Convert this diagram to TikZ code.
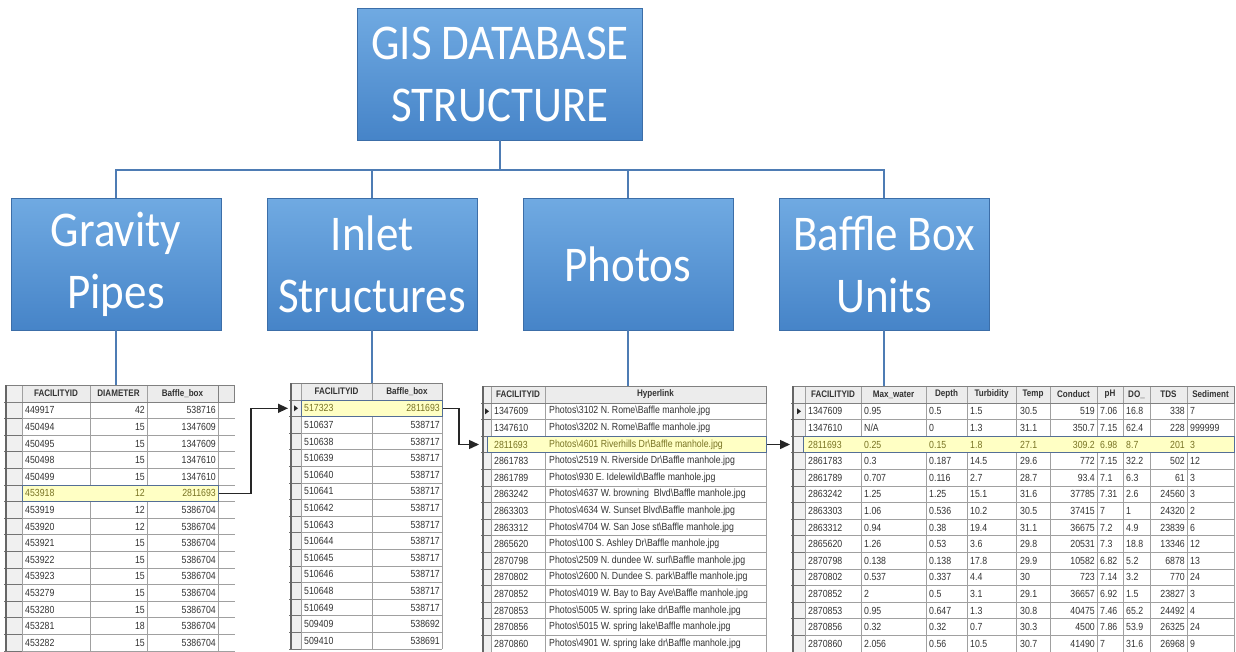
\documentclass[tikz,border=0pt]{standalone}
\usepackage{fontspec}
\setmainfont{Liberation Sans}
\newfontfamily\boxfont[FakeStretch=0.9]{Carlito}
\newfontfamily\cellfont[FakeStretch=0.85]{Liberation Sans}
\usetikzlibrary{arrows.meta}

\definecolor{cboxtop}{RGB}{112,170,226}
\definecolor{cboxbot}{RGB}{70,132,200}
\definecolor{cboxline}{RGB}{60,110,168}
\definecolor{cconn}{RGB}{78,124,180}
\definecolor{cgrid}{RGB}{160,160,160}
\definecolor{chdr}{RGB}{236,236,236}
\definecolor{csel}{RGB}{240,240,240}
\definecolor{chlfill}{RGB}{255,255,196}
\definecolor{chlline}{RGB}{84,110,150}
\definecolor{chltext}{RGB}{120,115,35}
\definecolor{ccell}{RGB}{50,50,50}

\def\hdrh{17}
\def\rowh{16.6}
\def\bs{\textbackslash}

\tikzset{
  box/.style={draw=cboxline, line width=0.8pt, top color=cboxtop, bottom color=cboxbot,
    minimum width=210pt, minimum height=132pt, inner sep=0pt, text=white, align=center,
    font=\boxfont\fontsize{50}{62}\selectfont},
  conn/.style={draw=cconn, line width=1.2pt},
  link/.style={draw=black!85, line width=1.4pt, -{Triangle[length=10pt,width=9pt]}},
  cell/.style={font=\cellfont\fontsize{10.3}{12}\selectfont, inner sep=0pt},
  hdr/.style={font=\cellfont\bfseries\fontsize{9.5}{11}\selectfont, text=black!80, inner sep=0pt},
  hlrow/.style={draw=chlline, fill=chlfill, line width=1pt, inner sep=0pt, minimum height=16.6pt},
  gridln/.style={draw=cgrid, line width=0.8pt},
  selln/.style={draw=black!55, line width=1pt},
  hdrln/.style={draw=black!50, line width=0.9pt},
  framel/.style={draw=black!60, line width=2pt},
  marker/.style={fill=black!85},
}

% table grid: #1 left, #2 selector right, #3 top, #4 right, #5 column rules
\newcommand\tgrid[5]{%
  \pgfmathsetmacro\tbot{#3+\hdrh+15*\rowh}
  \fill[chdr] (#2,#3) rectangle (#4,#3+\hdrh);
  \fill[csel] (#1,#3) rectangle (#2,\tbot);
  \foreach \rr in {0,...,15}{
    \draw[gridln] (#2,#3+\hdrh+\rr*\rowh) -- (#4,#3+\hdrh+\rr*\rowh);
    \draw[selln] (#1-2,#3+\hdrh+\rr*\rowh) -- (#2,#3+\hdrh+\rr*\rowh);
  }
  \foreach \cx in {#5}{\draw[gridln] (\cx,#3) -- (\cx,\tbot);}
  \draw[gridln] (#4,#3) -- (#4,\tbot);
  \draw[hdrln] (#1,#3) rectangle (#4,#3+\hdrh);
  \draw[framel] (#1,#3) -- (#1,\tbot);
}

\begin{document}
\begin{tikzpicture}[x=1pt,y=-1pt]
\fill[white] (0,0) rectangle (1236,651);
\clip (0,0) rectangle (1236,651);

% ---------- hierarchy ----------
\node[box, minimum width=285pt] (root) at (500,74) {GIS DATABASE\\STRUCTURE};
\node[box] (gp) at (116,264) {Gravity\\Pipes};
\node[box] (is) at (372,264) {Inlet\\Structures};
\node[box] (ph) at (628,264) {Photos};
\node[box] (bb) at (884,264) {Baffle Box\\Units};

\coordinate (bar) at (500,170);
\draw[conn] (root.south) -- (root.south |- bar);
\draw[conn] (gp.north) |- (bar) -| (bb.north);
\draw[conn] (is.north) -- (is.north |- bar);
\draw[conn] (ph.north) -- (ph.north |- bar);

% table origins
\coordinate (tabA) at (6,385);
\coordinate (tabB) at (291,383);
\coordinate (tabC) at (483,386);
\coordinate (tabD) at (793,386);

\draw[conn] (gp.south) -- (gp.south |- tabA);
\draw[conn] (is.south) -- (is.south |- tabB);
\draw[conn] (ph.south) -- (ph.south |- tabC);
\draw[conn] (bb.south) -- (bb.south |- tabD);

% ---------- table A: gravity pipes ----------
\fill[chdr] (218,385) rectangle (235,385+\hdrh);
\foreach \rr in {0,...,15}{\draw[gridln] (218,385+\hdrh+\rr*\rowh) -- (235,385+\hdrh+\rr*\rowh);}
\draw[hdrln] (218,385) rectangle (234,385+\hdrh);
\tgrid{6}{22}{385}{218}{22,90,147}
\node[hdr] (tAh1) at (56,393.5) {FACILITYID};
\node[hdr] (tAh2) at (118.5,393.5) {DIAMETER};
\node[hdr] (tAh3) at (182.5,393.5) {Baffle\_box};
\node[hlrow, minimum width=196pt] (hlA) at (120,385+\hdrh+5.5*\rowh) {};
\foreach \ca/\cb/\cc [count=\n] in {449917/42/538716, 450494/15/1347609, 450495/15/1347609,
  450498/15/1347610, 450499/15/1347610, 453918/12/2811693, 453919/12/5386704,
  453920/12/5386704, 453921/15/5386704, 453922/15/5386704, 453923/15/5386704,
  453279/15/5386704, 453280/15/5386704, 453281/18/5386704, 453282/15/5386704}{
  \pgfmathsetmacro\yy{385+\hdrh+(\n-0.5)*\rowh}
  \ifnum\n=6 \def\tc{chltext}\else\def\tc{ccell}\fi
  \node[cell, text=\tc, anchor=west] (tA-\n-1) at (25,\yy) {\ca};
  \node[cell, text=\tc, anchor=east] (tA-\n-2) at (145,\yy) {\cb};
  \node[cell, text=\tc, anchor=east] (tA-\n-3) at (216,\yy) {\cc};
}

% ---------- table B: inlet structures ----------
\tgrid{291}{301}{383}{442}{301,372}
\node[hdr] (tBh1) at (336.5,391.5) {FACILITYID};
\node[hdr] (tBh2) at (407,391.5) {Baffle\_box};
\node[hlrow, minimum width=141pt] (hlB) at (371.5,383+\hdrh+0.5*\rowh) {};
\fill[marker] (294,383+\hdrh+0.5*\rowh-3) -- (298,383+\hdrh+0.5*\rowh) -- (294,383+\hdrh+0.5*\rowh+3) -- cycle;
\foreach \ca/\cb [count=\n] in {517323/2811693, 510637/538717, 510638/538717, 510639/538717,
  510640/538717, 510641/538717, 510642/538717, 510643/538717, 510644/538717, 510645/538717,
  510646/538717, 510648/538717, 510649/538717, 509409/538692, 509410/538691}{
  \pgfmathsetmacro\yy{383+\hdrh+(\n-0.5)*\rowh}
  \ifnum\n=1 \def\tc{chltext}\else\def\tc{ccell}\fi
  \node[cell, text=\tc, anchor=west] (tB-\n-1) at (304,\yy) {\ca};
  \node[cell, text=\tc, anchor=east] (tB-\n-2) at (440,\yy) {\cb};
}

% ---------- table C: photos ----------
\tgrid{483}{491}{386}{766}{491,545}
\node[hdr] (tCh1) at (518,394.5) {FACILITYID};
\node[hdr] (tCh2) at (655.5,394.5) {Hyperlink};
\node[hlrow, minimum width=279pt] (hlC) at (626.5,386+\hdrh+2.5*\rowh) {};
\fill[marker] (485,386+\hdrh+0.5*\rowh-3) -- (489,386+\hdrh+0.5*\rowh) -- (485,386+\hdrh+0.5*\rowh+3) -- cycle;
\foreach \ca/\cb [count=\n] in {
  1347609/Photos\bs 3102 N. Rome\bs Baffle manhole.jpg,
  1347610/Photos\bs 3202 N. Rome\bs Baffle manhole.jpg,
  2811693/Photos\bs 4601 Riverhills Dr\bs Baffle manhole.jpg,
  2861783/Photos\bs 2519 N. Riverside Dr\bs Baffle manhole.jpg,
  2861789/Photos\bs 930 E. Idelewild\bs Baffle manhole.jpg,
  2863242/Photos\bs 4637 W. browning\ \ Blvd\bs Baffle manhole.jpg,
  2863303/Photos\bs 4634 W. Sunset Blvd\bs Baffle manhole.jpg,
  2863312/Photos\bs 4704 W. San Jose st\bs Baffle manhole.jpg,
  2865620/Photos\bs 100 S. Ashley Dr\bs Baffle manhole.jpg,
  2870798/Photos\bs 2509 N. dundee W. surl\bs Baffle manhole.jpg,
  2870802/Photos\bs 2600 N. Dundee S. park\bs Baffle manhole.jpg,
  2870852/Photos\bs 4019 W. Bay to Bay Ave\bs Baffle manhole.jpg,
  2870853/Photos\bs 5005 W. spring lake dr\bs Baffle manhole.jpg,
  2870856/Photos\bs 5015 W. spring lake\bs Baffle manhole.jpg,
  2870860/Photos\bs 4901 W. spring lake dr\bs Baffle manhole.jpg}{
  \pgfmathsetmacro\yy{386+\hdrh+(\n-0.5)*\rowh}
  \ifnum\n=3 \def\tc{chltext}\else\def\tc{ccell}\fi
  \node[cell, text=\tc, anchor=west] (tC-\n-1) at (494,\yy) {\ca};
  \node[cell, text=\tc, anchor=west] (tC-\n-2) at (549,\yy) {\cb};
}

% ---------- table D: baffle box units ----------
\tgrid{793}{805}{386}{1234}{805,861,926,967,1016,1050,1097,1123,1150,1187}
\node[hdr] (tDh1) at (833,394.5) {FACILITYID};
\node[hdr] (tDh2) at (893.5,394.5) {Max\_water};
\node[hdr] (tDh3) at (946.5,394.5) {Depth};
\node[hdr] (tDh4) at (991.5,394.5) {Turbidity};
\node[hdr] (tDh5) at (1033,394.5) {Temp};
\node[hdr] (tDh6) at (1073.5,394.5) {Conduct};
\node[hdr] (tDh7) at (1110,394.5) {pH};
\node[hdr] (tDh8) at (1136.5,394.5) {DO\_};
\node[hdr] (tDh9) at (1168.5,394.5) {TDS};
\node[hdr] (tDh10) at (1210.5,394.5) {Sediment};
\node[hlrow, minimum width=431pt] (hlD) at (1018.5,386+\hdrh+2.5*\rowh) {};
\fill[marker] (797,386+\hdrh+0.5*\rowh-3) -- (801,386+\hdrh+0.5*\rowh) -- (797,386+\hdrh+0.5*\rowh+3) -- cycle;
\foreach \ca/\cb/\cc/\cd/\ce/\cf/\cg/\ch/\ci/\cj [count=\n] in {
  1347609/0.95/0.5/1.5/30.5/519/7.06/16.8/338/7,
  1347610/N\slash A/0/1.3/31.1/350.7/7.15/62.4/228/999999,
  2811693/0.25/0.15/1.8/27.1/309.2/6.98/8.7/201/3,
  2861783/0.3/0.187/14.5/29.6/772/7.15/32.2/502/12,
  2861789/0.707/0.116/2.7/28.7/93.4/7.1/6.3/61/3,
  2863242/1.25/1.25/15.1/31.6/37785/7.31/2.6/24560/3,
  2863303/1.06/0.536/10.2/30.5/37415/7/1/24320/2,
  2863312/0.94/0.38/19.4/31.1/36675/7.2/4.9/23839/6,
  2865620/1.26/0.53/3.6/29.8/20531/7.3/18.8/13346/12,
  2870798/0.138/0.138/17.8/29.9/10582/6.82/5.2/6878/13,
  2870802/0.537/0.337/4.4/30/723/7.14/3.2/770/24,
  2870852/2/0.5/3.1/29.1/36657/6.92/1.5/23827/3,
  2870853/0.95/0.647/1.3/30.8/40475/7.46/65.2/24492/4,
  2870856/0.32/0.32/0.7/30.3/4500/7.86/53.9/26325/24,
  2870860/2.056/0.56/10.5/30.7/41490/7/31.6/26968/9}{
  \pgfmathsetmacro\yy{386+\hdrh+(\n-0.5)*\rowh}
  \ifnum\n=3 \def\tc{chltext}\else\def\tc{ccell}\fi
  \node[cell, text=\tc, anchor=west] (tD-\n-1) at (808,\yy) {\ca};
  \node[cell, text=\tc, anchor=west] (tD-\n-2) at (864,\yy) {\cb};
  \node[cell, text=\tc, anchor=west] (tD-\n-3) at (929,\yy) {\cc};
  \node[cell, text=\tc, anchor=west] (tD-\n-4) at (970,\yy) {\cd};
  \node[cell, text=\tc, anchor=west] (tD-\n-5) at (1020,\yy) {\ce};
  \node[cell, text=\tc, anchor=east] (tD-\n-6) at (1095,\yy) {\cf};
  \node[cell, text=\tc, anchor=west] (tD-\n-7) at (1100,\yy) {\cg};
  \node[cell, text=\tc, anchor=west] (tD-\n-8) at (1126,\yy) {\ch};
  \node[cell, text=\tc, anchor=east] (tD-\n-9) at (1185,\yy) {\ci};
  \node[cell, text=\tc, anchor=west] (tD-\n-10) at (1190,\yy) {\cj};
}

% ---------- record links between tables ----------
\coordinate (bendA) at (251,0);
\coordinate (bendB) at (459,0);
\draw[link] (hlA.east) -- (hlA.east -| bendA) |- ([xshift=-3pt]tabB |- hlB.west);
\draw[link] (hlB.east) -- (hlB.east -| bendB) |- ([xshift=-4pt]tabC |- hlC.west);
\draw[link] (hlC.east) -- ([xshift=-3pt]tabD |- hlC.east);
\end{tikzpicture}
\end{document}
